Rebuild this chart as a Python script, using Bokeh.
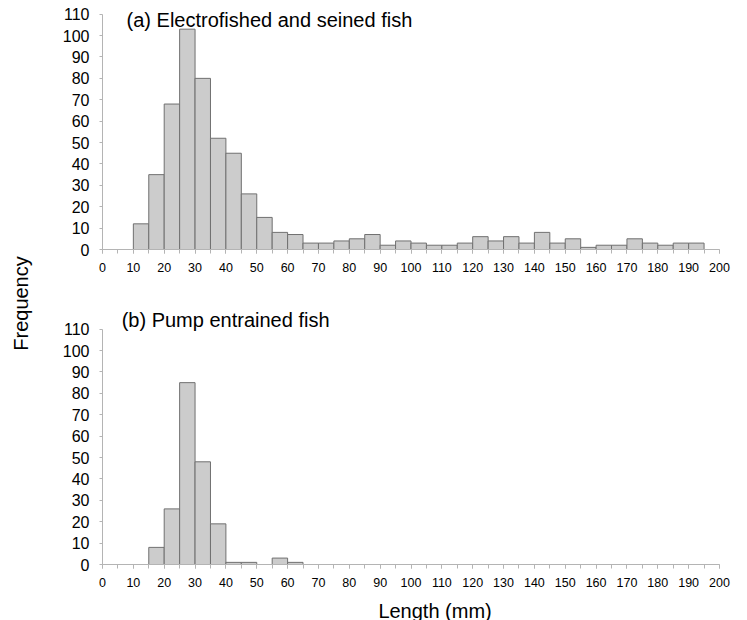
import math
from bokeh.plotting import figure
from bokeh.models import Range1d, SingleIntervalTicker, Label, ColumnDataSource
from bokeh.layouts import row, column
from bokeh.embed import file_html
from bokeh.resources import INLINE

# ---- data ----
bin_width = 5
bins_a = [10, 15, 20, 25, 30, 35, 40, 45, 50, 55, 60, 65, 70, 75, 80, 85, 90, 95,
          100, 105, 110, 115, 120, 125, 130, 135, 140, 145, 150, 155, 160, 165,
          170, 175, 180, 185, 190]
counts_a = [12, 35, 68, 103, 80, 52, 45, 26, 15, 8, 7, 3, 3, 4, 5, 7, 2, 4,
            3, 2, 2, 3, 6, 4, 6, 3, 8, 3, 5, 1, 2, 2,
            5, 3, 2, 3, 3]
bins_b = [15, 20, 25, 30, 35, 40, 45, 50, 55, 60]
counts_b = [8, 26, 85, 48, 19, 1, 1, 0, 3, 1]

title_a = "(a) Electrofished and seined fish"
title_b = "(b) Pump entrained fish"
x_label = "Length (mm)"
y_label = "Frequency"

FONT = "Liberation Sans"
FILL = "#cccccc"
EDGE = "#707070"
AXIS = "#b4b4b4"
PX_PER_UNIT = 2.139


def base_fig(frame_h, ymin, ymax, top_border, bottom_border, axes=True):
    kw = {} if axes else dict(x_axis_type=None, y_axis_type=None)
    p = figure(frame_width=617, frame_height=frame_h,
               min_border_left=64, min_border_right=20,
               min_border_top=top_border, min_border_bottom=bottom_border,
               x_range=Range1d(0, 200), y_range=Range1d(ymin, ymax),
               toolbar_location=None, output_backend="svg", align="start",
               title=None, **kw)
    p.grid.visible = False
    p.outline_line_color = None
    p.background_fill_color = "white"
    p.border_fill_color = "white"
    return p


def make_hist(bins, counts, ymax, top_border, bottom_border):
    p = base_fig(round(ymax * PX_PER_UNIT), 0, ymax, top_border, bottom_border)
    pairs = [(b, c) for b, c in zip(bins, counts) if c > 0]
    src = ColumnDataSource(dict(
        left=[b for b, c in pairs],
        right=[b + bin_width for b, c in pairs],
        top=[c for b, c in pairs],
        bottom=[0 for b, c in pairs]))
    p.quad(left="left", right="right", top="top", bottom="bottom", source=src,
           fill_color=FILL, line_color=EDGE, line_width=1)

    p.xaxis.ticker = SingleIntervalTicker(interval=10, num_minor_ticks=2)
    p.yaxis.ticker = SingleIntervalTicker(interval=10, num_minor_ticks=0)
    p.yaxis.bounds = (0, 110)
    for ax in (p.xaxis[0], p.yaxis[0]):
        ax.axis_line_color = AXIS
        ax.major_tick_line_color = AXIS
        ax.minor_tick_line_color = AXIS
        ax.major_tick_in = 0
        ax.minor_tick_in = 0
        ax.major_label_text_font = FONT
        ax.major_label_text_color = "black"
    p.xaxis.major_tick_out = 4
    p.xaxis.minor_tick_out = 4
    p.xaxis.major_label_standoff = 9
    p.xaxis.major_label_text_font_size = "12.5px"
    p.yaxis.major_tick_out = 3
    p.yaxis.minor_tick_out = 0
    p.yaxis.major_label_standoff = 10
    p.yaxis.major_label_text_font_size = "16px"
    return p


top = make_hist(bins_a, counts_a, 115, 3, 51)
top.add_layout(Label(x=7.8, y=107.5, text=title_a, text_font=FONT,
                     text_font_size="20px", text_color="black",
                     text_align="left", text_baseline="alphabetic"))

bottom = make_hist(bins_b, counts_b, 122, 3, 30)
bottom.add_layout(Label(x=6.2, y=114.2, text=title_b, text_font=FONT,
                        text_font_size="20px", text_color="black",
                        text_align="left", text_baseline="alphabetic"))

# strip below the lower panel holding the x-axis title (y in pixels from its top)
xlab = base_fig(26, 26, 0, 0, 0, axes=False)
xlab.add_layout(Label(x=107.8, y=16, text=x_label, text_font=FONT,
                      text_font_size="20px", text_color="black",
                      text_align="center", text_baseline="alphabetic"))

side = figure(width=38, height=620, x_range=Range1d(0, 38), y_range=Range1d(620, 0),
              min_border=0, toolbar_location=None, output_backend="svg", align="start",
              title=None, x_axis_type=None, y_axis_type=None)
side.grid.visible = False
side.outline_line_color = None
side.add_layout(Label(x=20.7, y=303, text=y_label, text_font=FONT,
                      text_font_size="20px", text_color="black", angle=math.pi / 2,
                      text_align="center", text_baseline="alphabetic"))

layout = row(side, column(top, bottom, xlab, align="start"), align="start")

open("out.html", "w").write(file_html(layout, INLINE))
